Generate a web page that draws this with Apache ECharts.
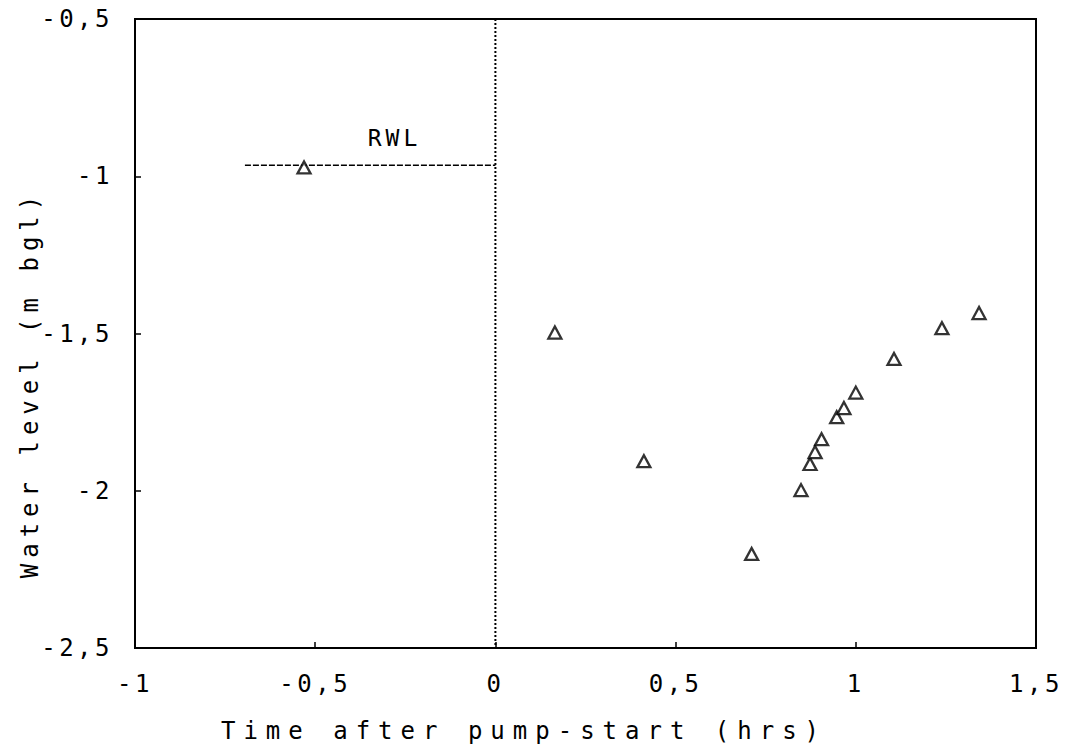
<!DOCTYPE html>
<html>
<head>
<meta charset="utf-8">
<script src="https://cdn.jsdelivr.net/npm/echarts@6/dist/echarts.min.js"></script>
<style>
html,body{margin:0;padding:0;background:#fff;}
#main{width:1068px;height:747px;}
#main text{letter-spacing:3.5px;}
</style>
</head>
<body>
<div id="main"></div>
<script>
// Measured drawdown / recovery data
const timeHrs = [-0.531, 0.165, 0.412, 0.711, 0.848, 0.873, 0.887, 0.905, 0.947, 0.967, 1.000, 1.106, 1.239, 1.342];
const waterLevel = [-0.972, -1.497, -1.906, -2.201, -1.998, -1.915, -1.877, -1.836, -1.766, -1.737, -1.688, -1.581, -1.483, -1.435];
// Rest water level line (RWL) and pump start line
const rwlX = [-0.695, 0];
const rwlY = [-0.965, -0.965];
const pumpStartX = [0, 0];
const pumpStartY = [-0.5, -2.5];
const rwlLabelPos = [-0.28, -0.877];
const rwlLabel = 'RWL';
const xTicks = [-1, -0.5, 0, 0.5, 1, 1.5];
const yTicks = [-0.5, -1, -1.5, -2, -2.5];
const xTitle = 'Time after pump-start (hrs)';
const yTitle = 'Water level (m bgl)';

const FONT = 'DejaVu Sans Mono';
const fmt = v => String(v).replace('.', ',');

const chart = echarts.init(document.getElementById('main'), null, {renderer: 'svg'});
chart.setOption({
  backgroundColor: '#fff',
  animation: false,
  grid: {left: 135, right: 32, top: 19, bottom: 99, show: true, borderColor: '#000', borderWidth: 2},
  xAxis: {
    type: 'value', min: xTicks[0], max: xTicks[xTicks.length - 1], interval: 0.5,
    axisLine: {show: true, onZero: false, lineStyle: {color: '#000', width: 2}},
    axisTick: {show: true, inside: true, length: 6, lineStyle: {color: '#000', width: 1.5}},
    splitLine: {show: false},
    axisLabel: {color: '#000', fontFamily: FONT, fontSize: 24, margin: 24, formatter: fmt}
  },
  yAxis: {
    type: 'value', min: yTicks[yTicks.length - 1], max: yTicks[0], interval: 0.5,
    axisLine: {show: true, onZero: false, lineStyle: {color: '#000', width: 2}},
    axisTick: {show: true, inside: true, length: 6, lineStyle: {color: '#000', width: 1.5}},
    splitLine: {show: false},
    axisLabel: {color: '#000', fontFamily: FONT, fontSize: 24, margin: 22, formatter: fmt}
  },
  graphic: [
    {type: 'text', x: 524, y: 731, style: {text: xTitle, fill: '#000', font: '24px "DejaVu Sans Mono"', align: 'center', verticalAlign: 'middle'}},
    {type: 'text', x: 30, y: 384, rotation: Math.PI / 2, style: {text: yTitle, fill: '#000', font: '24px "DejaVu Sans Mono"', align: 'center', verticalAlign: 'middle'}}
  ],
  series: [
    {
      type: 'line', data: pumpStartX.map((x, i) => [x, pumpStartY[i]]),
      symbol: 'none', lineStyle: {color: '#000', width: 2, type: [2, 2]}, z: 1
    },
    {
      type: 'line', data: rwlX.map((x, i) => [x, rwlY[i]]),
      symbol: 'none', lineStyle: {color: '#000', width: 1.5, type: [6, 2]}, z: 1,
      markPoint: {
        symbol: 'circle', symbolSize: 0,
        data: [{coord: rwlLabelPos, value: rwlLabel}],
        label: {show: true, formatter: rwlLabel, color: '#000', fontFamily: FONT, fontSize: 23, position: 'inside'}
      }
    },
    {
      type: 'scatter', data: timeHrs.map((x, i) => [x, waterLevel[i]]),
      symbol: 'triangle', symbolSize: [13, 12],
      itemStyle: {color: '#fff', borderColor: '#000', borderWidth: 2.3}, z: 3
    }
  ]
});

// Wider letter spacing for the axis titles, as in the plotter-drawn original
function spaceTitles() {
  document.querySelectorAll('#main text').forEach(t => {
    const s = t.textContent;
    if (s === xTitle) t.style.letterSpacing = '8px';
    else if (s === yTitle) t.style.letterSpacing = '6px';
    else if (s === rwlLabel) t.style.letterSpacing = '4px';
  });
}
spaceTitles();
chart.on('finished', spaceTitles);
</script>
</body>
</html>
